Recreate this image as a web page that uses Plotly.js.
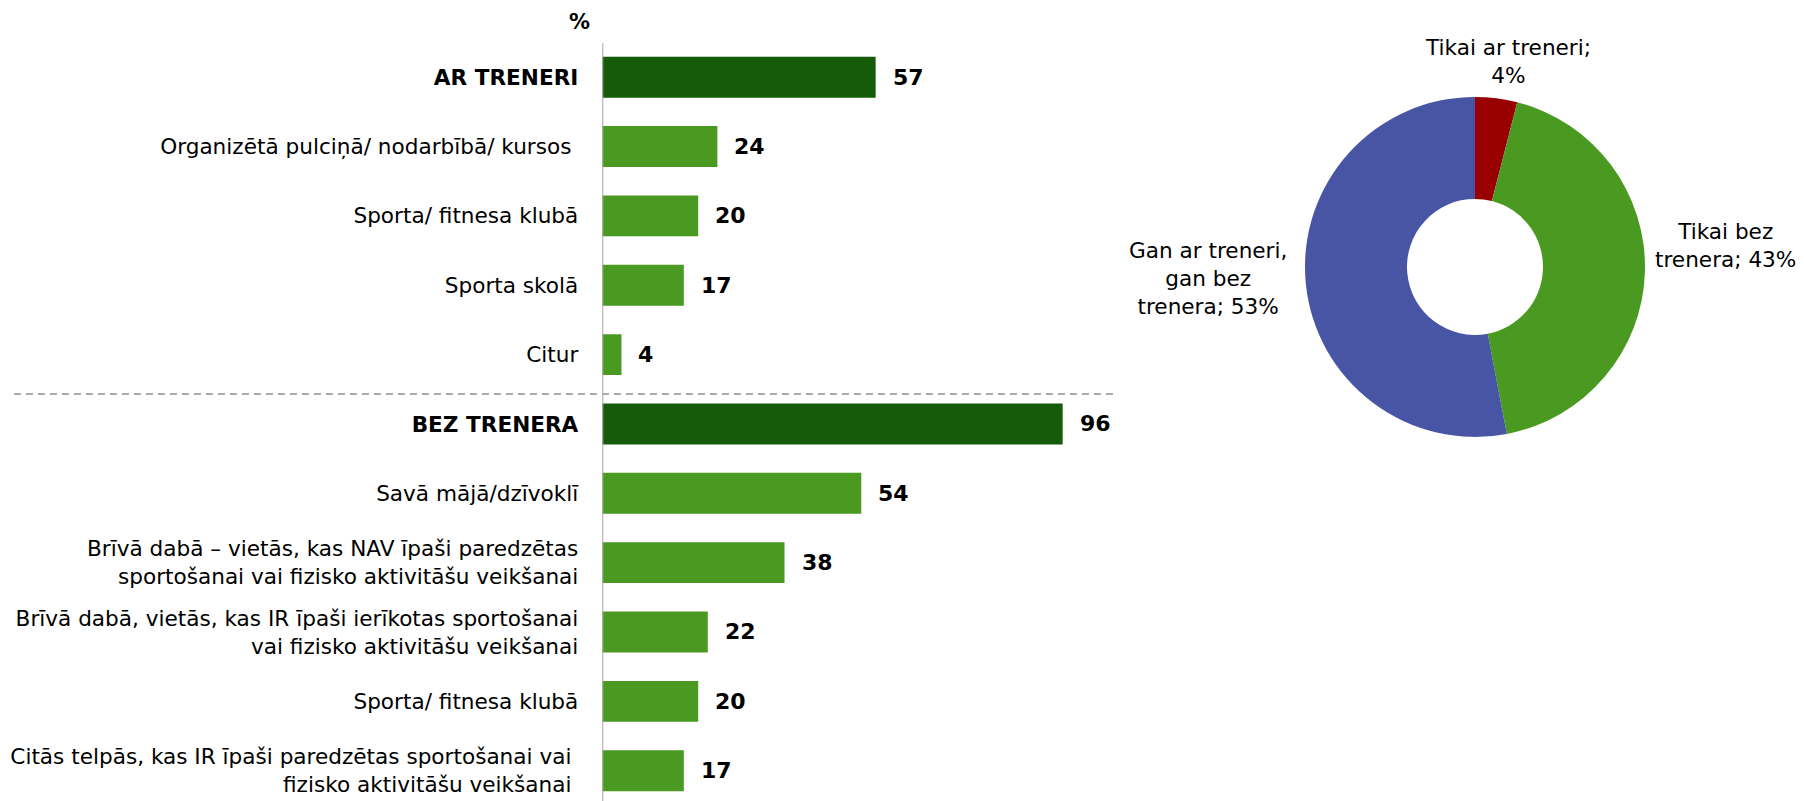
<!DOCTYPE html>
<html>
<head>
<meta charset="utf-8">
<script src="https://cdn.plot.ly/plotly-3.0.1.min.js"></script>
<style>html,body{margin:0;padding:0;background:#fff;}#chart{width:1804px;height:801px;}</style>
</head>
<body>
<div id="chart"></div>
<script>
// ---- data ----
const categories = [
  "<b>AR TRENERI</b>",
  "Organizētā pulciņā/ nodarbībā/ kursos\u00a0",
  "Sporta/ fitnesa klubā",
  "Sporta skolā",
  "Citur",
  "<b>BEZ TRENERA</b>",
  "Savā mājā/dzīvoklī",
  "Brīvā dabā – vietās, kas NAV īpaši paredzētas<br>sportošanai vai fizisko aktivitāšu veikšanai",
  "Brīvā dabā, vietās, kas IR īpaši ierīkotas sportošanai<br>vai fizisko aktivitāšu veikšanai",
  "Sporta/ fitnesa klubā",
  "Citās telpās, kas IR īpaši paredzētas sportošanai vai\u00a0<br>fizisko aktivitāšu veikšanai\u00a0"
];
const isHeader = [true, false, false, false, false, true, false, false, false, false, false];
const valuesArTreneri = [57, 24, 20, 17, 4];
const valuesBezTrenera = [96, 54, 38, 22, 20, 17];
const values = valuesArTreneri.concat(valuesBezTrenera);

const pieLabels = ["Tikai ar treneri", "Tikai bez<br>trenera", "Gan ar treneri,<br>gan bez<br>trenera"];
const pieSeparators = [";<br>", "; ", "; "];
const pieValues = [4, 43, 53];

// ---- styles ----
const FONT = "DejaVu Sans, Verdana, sans-serif";
const darkGreen = "#155B08";
const lightGreen = "#4A9A21";
const pieColors = ["#990000", "#4A9A21", "#4755A4"];

const idx = categories.map((c, i) => i);

const barTrace = {
  type: "bar",
  orientation: "h",
  x: values,
  y: idx,
  width: 0.59,
  marker: { color: isHeader.map(h => h ? darkGreen : lightGreen), line: { width: 0 } },
  hoverinfo: "skip",
  xaxis: "x", yaxis: "y"
};

const pieTrace = {
  type: "pie",
  labels: pieLabels,
  values: pieValues,
  sort: false,
  direction: "clockwise",
  rotation: 0,
  hole: 0.4,
  textinfo: "none",
  hoverinfo: "skip",
  marker: { colors: pieColors, line: { width: 0 } },
  domain: { x: [0.72339, 0.91186], y: [0.45456, 0.87902] }
};

const annotations = [];
values.forEach((v, i) => {
  annotations.push({
    x: v, y: i, xref: "x", yref: "y",
    text: "<b>" + v + "</b>",
    showarrow: false, xanchor: "left", yanchor: "middle", xshift: 15,
    font: { family: FONT, size: 22, color: "#000" }
  });
});
annotations.push({
  x: 579 / 1804, y: 1 - 22 / 801, xref: "paper", yref: "paper",
  text: "<b>%</b>", showarrow: false, xanchor: "center", yanchor: "middle",
  font: { family: FONT, size: 21, color: "#000" }
});
const piePos = [[0.8359, 0.9232], [0.9565, 0.6935], [0.6696, 0.6529]];
pieLabels.forEach((l, i) => {
  annotations.push({
    x: piePos[i][0], y: piePos[i][1], xref: "paper", yref: "paper",
    text: l + pieSeparators[i] + pieValues[i] + "%",
    showarrow: false, xanchor: "center", yanchor: "middle", align: "center",
    font: { family: FONT, size: 21.6, color: "#000" }
  });
});

const layout = {
  width: 1804, height: 801,
  margin: { l: 0, r: 0, t: 0, b: 0, pad: 0 },
  paper_bgcolor: "#fff", plot_bgcolor: "rgba(0,0,0,0)",
  showlegend: false,
  font: { family: FONT, color: "#000" },
  xaxis: {
    domain: [602.3 / 1804, 1113.5 / 1804],
    range: [0, 106.6],
    showgrid: false, zeroline: false, showline: false, showticklabels: false, ticks: "",
    fixedrange: true
  },
  yaxis: {
    domain: [0, 1],
    range: [10.437, -1.113],
    tickmode: "array",
    tickvals: idx,
    ticktext: categories,
    showgrid: false, zeroline: false, showline: false, ticks: "",
    ticklabelstandoff: 23,
    tickfont: { family: FONT, size: 21.6, color: "#000" },
    automargin: false,
    fixedrange: true
  },
  shapes: [
    { type: "line", xref: "x", yref: "y", x0: 0, x1: 0, y0: -0.49, y1: 10.437,
      line: { color: "#A6A6A6", width: 2 }, layer: "above" },
    { type: "line", xref: "paper", yref: "y", x0: 14 / 1804, x1: 1114 / 1804, y0: 4.568, y1: 4.568,
      line: { color: "#ABABAB", width: 2, dash: "7px,5px" } }
  ],
  annotations: annotations
};

Plotly.newPlot("chart", [barTrace, pieTrace], layout, { displayModeBar: false, staticPlot: true });
</script>
</body>
</html>
